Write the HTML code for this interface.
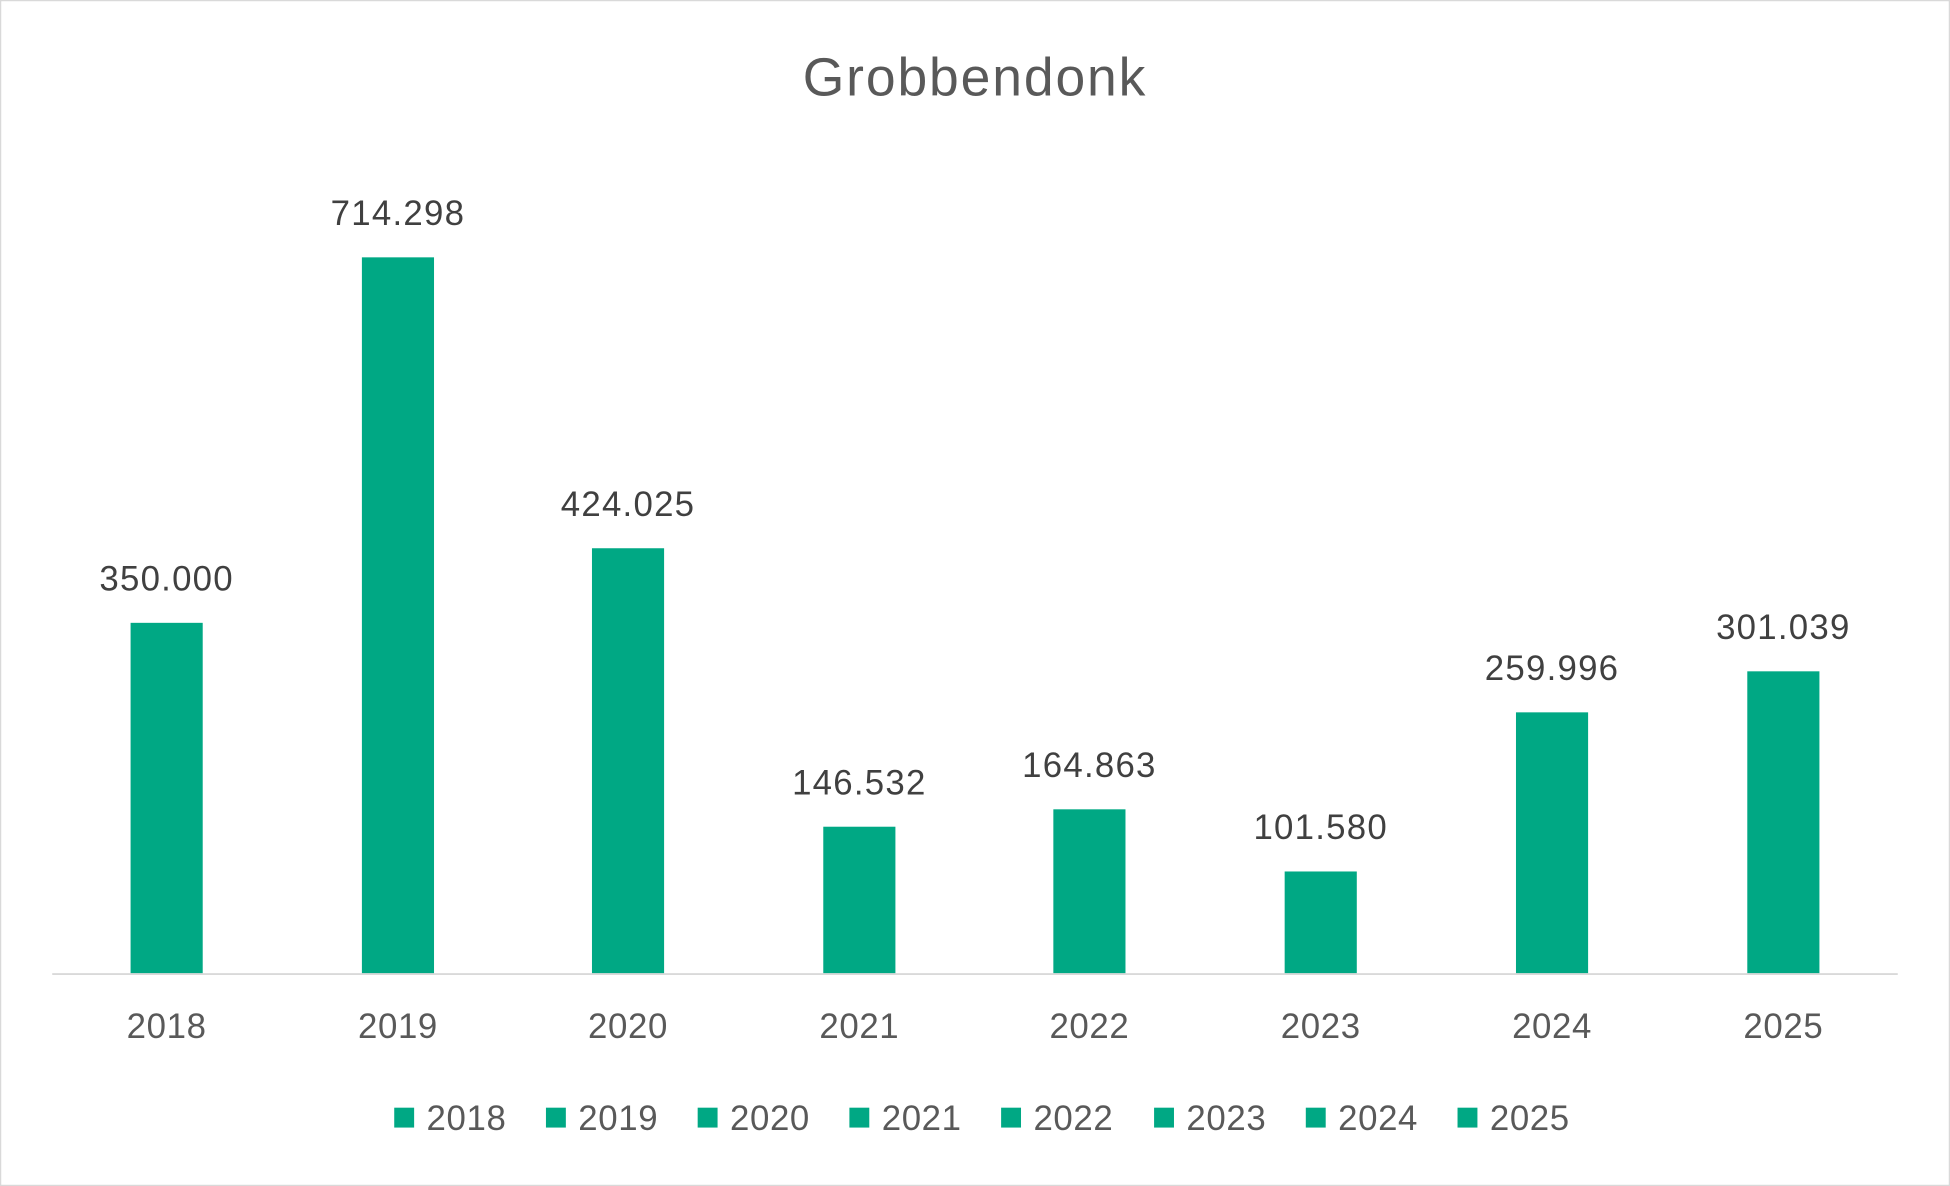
<!DOCTYPE html>
<html><head><meta charset="utf-8"><style>
html,body{margin:0;padding:0;background:#fff;}
svg{display:block;}
text{font-family:"Liberation Sans",sans-serif;fill:#404040;}
</style></head><body>
<svg width="1950" height="1186" viewBox="0 0 1568 954" preserveAspectRatio="none" xmlns="http://www.w3.org/2000/svg">
<rect x="0.5" y="0.5" width="1567" height="953" fill="#fff" stroke="#d9d9d9" stroke-width="1"/>
<text x="784" y="77" font-size="43" text-anchor="middle" letter-spacing="1.5" style="fill:#595959">Grobbendonk</text>
<g fill="#00a884">
<rect x="105" y="501" width="58" height="282"/>
<rect x="291" y="207" width="58" height="576"/>
<rect x="476" y="441" width="58" height="342"/>
<rect x="662" y="665" width="58" height="118"/>
<rect x="847" y="651" width="58" height="132"/>
<rect x="1033" y="701" width="58" height="82"/>
<rect x="1219" y="573" width="58" height="210"/>
<rect x="1405" y="540" width="58" height="243"/>
</g>
<line x1="42" y1="783.5" x2="1526" y2="783.5" stroke="#d9d9d9" stroke-width="1.5"/>
<g font-size="28" text-anchor="middle" letter-spacing="1">
<text x="134" y="475">350.000</text>
<text x="320" y="181">714.298</text>
<text x="505" y="415">424.025</text>
<text x="691" y="639">146.532</text>
<text x="876" y="625">164.863</text>
<text x="1062" y="675">101.580</text>
<text x="1248" y="547">259.996</text>
<text x="1434" y="514">301.039</text>
</g>
<g font-size="28" text-anchor="middle" letter-spacing="0.5">
<text x="134" y="835" style="fill:#595959">2018</text>
<text x="320" y="835" style="fill:#595959">2019</text>
<text x="505" y="835" style="fill:#595959">2020</text>
<text x="691" y="835" style="fill:#595959">2021</text>
<text x="876" y="835" style="fill:#595959">2022</text>
<text x="1062" y="835" style="fill:#595959">2023</text>
<text x="1248" y="835" style="fill:#595959">2024</text>
<text x="1434" y="835" style="fill:#595959">2025</text>
</g>
<g fill="#00a884">
<rect x="317" y="891" width="16" height="16"/>
<rect x="439" y="891" width="16" height="16"/>
<rect x="561" y="891" width="16" height="16"/>
<rect x="683" y="891" width="16" height="16"/>
<rect x="805" y="891" width="16" height="16"/>
<rect x="928" y="891" width="16" height="16"/>
<rect x="1050" y="891" width="16" height="16"/>
<rect x="1172" y="891" width="16" height="16"/>
</g>
<g font-size="28" letter-spacing="0.5">
<text x="343" y="909" style="fill:#595959">2018</text>
<text x="465" y="909" style="fill:#595959">2019</text>
<text x="587" y="909" style="fill:#595959">2020</text>
<text x="709" y="909" style="fill:#595959">2021</text>
<text x="831" y="909" style="fill:#595959">2022</text>
<text x="954" y="909" style="fill:#595959">2023</text>
<text x="1076" y="909" style="fill:#595959">2024</text>
<text x="1198" y="909" style="fill:#595959">2025</text>
</g>
</svg>
</body></html>
